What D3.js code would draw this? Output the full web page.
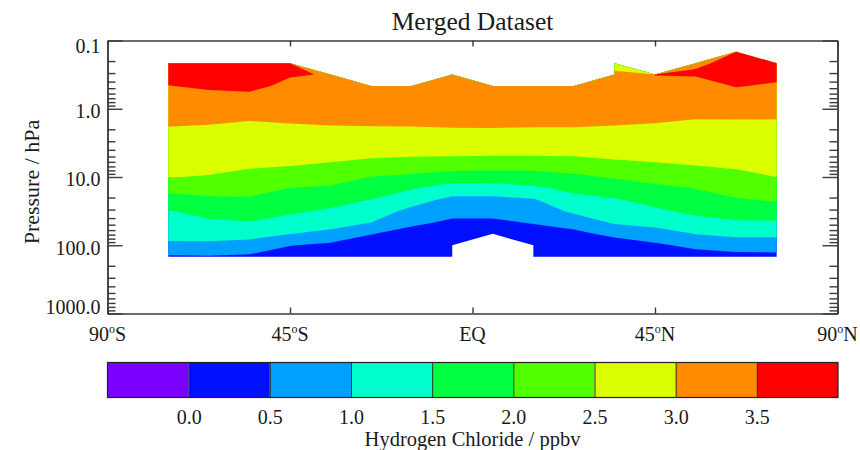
<!DOCTYPE html>
<html>
<head>
<meta charset="utf-8">
<script src="https://cdn.jsdelivr.net/npm/d3@7"></script>
<style>
  body { margin: 0; background: #fff; }
  text { font-family: "Liberation Serif", "Times New Roman", "DejaVu Serif", serif; fill: #1a1a1a; }
  .tick text { font-size: 20px; }
  .axis .domain, .axis .tick line { stroke: #3a3a3a; stroke-width: 1.4; }
  .cbar .domain { display: none; }
  .cbar .tick line { stroke: #333; stroke-width: 1; }
</style>
</head>
<body>
<svg id="chart" width="860" height="450"></svg>
<script>
// Zonal-mean HCl (ppbv) on latitude / pressure grid.
const latitudes = [-75, -65, -55, -45, -35, -25, -15, -5, 5, 15, 25, 35, 45, 55, 65, 75];
const pressureLevels = [146.8, 100.0, 68.13, 46.42, 31.62, 21.54, 14.68, 10.0, 6.813,
                        4.642, 3.162, 2.154, 1.468, 1.0, 0.6813, 0.4642, 0.3162, 0.2154, 0.1468];
// one row per pressure level (highest pressure first), one value per latitude; null = no data
const hcl = [
  [0.44, 0.47, 0.42, 0.20, 0.10, 0.05, 0.02, 0.03, null, 0.05, 0.05, 0.05, 0.05, 0.25, 0.34, 0.36],
  [0.92, 0.90, 0.82, 0.52, 0.39, 0.10, 0.10, 0.08, null, 0.10, 0.10, 0.19, 0.41, 0.63, 0.73, 0.74],
  [1.14, 1.18, 1.17, 1.01, 0.88, 0.52, 0.32, 0.19, 0.20, 0.32, 0.35, 0.65, 0.81, 1.01, 1.11, 1.11],
  [1.31, 1.42, 1.48, 1.31, 1.18, 1.00, 0.60, 0.42, 0.42, 0.53, 0.73, 1.05, 1.15, 1.34, 1.45, 1.45],
  [1.48, 1.67, 1.71, 1.58, 1.43, 1.25, 0.88, 0.65, 0.65, 0.75, 1.08, 1.26, 1.42, 1.61, 1.71, 1.76],
  [1.80, 1.92, 1.94, 1.79, 1.68, 1.49, 1.19, 0.88, 0.88, 0.96, 1.35, 1.46, 1.66, 1.81, 1.96, 2.05],
  [2.15, 2.19, 2.16, 1.99, 1.94, 1.75, 1.54, 1.27, 1.27, 1.41, 1.62, 1.75, 1.90, 2.01, 2.18, 2.27],
  [2.51, 2.48, 2.37, 2.25, 2.19, 1.99, 1.90, 1.77, 1.76, 1.79, 1.90, 2.05, 2.16, 2.26, 2.39, 2.50],
  [2.62, 2.60, 2.55, 2.51, 2.45, 2.34, 2.27, 2.21, 2.18, 2.18, 2.24, 2.38, 2.45, 2.50, 2.55, 2.60],
  [2.73, 2.71, 2.66, 2.64, 2.62, 2.59, 2.57, 2.56, 2.55, 2.55, 2.56, 2.60, 2.62, 2.62, 2.66, 2.70],
  [2.84, 2.82, 2.78, 2.78, 2.77, 2.76, 2.75, 2.75, 2.75, 2.75, 2.74, 2.76, 2.76, 2.75, 2.77, 2.80],
  [2.95, 2.93, 2.89, 2.91, 2.92, 2.93, 2.93, 2.94, 2.95, 2.94, 2.93, 2.92, 2.90, 2.87, 2.88, 2.90],
  [3.07, 3.05, 3.01, 3.04, 3.07, 3.08, 3.09, 3.12, 3.11, 3.10, 3.12, 3.07, 3.04, 2.99, 2.99, 2.99],
  [3.21, 3.22, 3.21, 3.16, 3.15, 3.16, 3.17, 3.22, 3.19, 3.18, 3.22, 3.12, 3.15, 3.12, 3.17, 3.15],
  [3.35, 3.39, 3.40, 3.28, 3.25, 3.24, 3.25, 3.31, 3.26, 3.26, 3.30, 3.15, 3.27, 3.25, 3.34, 3.30],
  [3.49, 3.56, 3.60, 3.41, 3.33, 3.32, 3.33, 3.40, 3.33, 3.34, 3.38, 3.12, 3.39, 3.35, 3.52, 3.45],
  [3.64, 3.70, 3.75, 3.53, 3.48, null, null, 3.56, null, null, null, 3.04, 3.51, 3.53, 3.65, 3.60],
  [3.80, 3.82, 3.85, 3.70, null, null, null, null, null, null, null, 2.92, null, 3.47, 3.55, 3.70],
  [null, null, null, null, null, null, null, null, null, null, null, null, null, null, 3.80, null]
];

const contourLevels = [0.0, 0.5, 1.0, 1.5, 2.0, 2.5, 3.0, 3.5];
const colorbarEdges = [-0.5, 0.0, 0.5, 1.0, 1.5, 2.0, 2.5, 3.0, 3.5, 4.0];
const levelColors = ["#7a00ff", "#0010ff", "#00a0ff", "#00ffcc", "#00ff40",
                     "#50ff00", "#dcff00", "#ff8c00", "#ff0000"];
const pressureTicks = [0.1, 1, 10, 100, 1000];
const latTicks = [-90, -45, 0, 45, 90];
const latTickLabels = ["90°S", "45°S", "EQ", "45°N", "90°N"];

const svg = d3.select("#chart");

const x = d3.scaleLinear([-90, 90], [107.5, 837.5]);
const y = d3.scaleLog([0.1, 1000], [40.5, 313.5]);

// ---- filled contours ----
// pad the grid with one ring of "no data" so that every boundary sits on a data point
const nx = latitudes.length + 2, ny = pressureLevels.length + 2;
const NO_DATA = -1e6;
const grid = new Array(nx * ny).fill(NO_DATA);
hcl.forEach((row, j) => row.forEach((v, i) => {
  if (v != null) grid[(j + 1) * nx + (i + 1)] = v;
}));

const dLat = latitudes[1] - latitudes[0];
const logP0 = Math.log10(pressureLevels[0]);
const dLogP = Math.log10(pressureLevels[1]) - logP0;
const gridToPixel = d3.geoTransform({
  point(gx, gy) {
    const lat = latitudes[0] + (gx - 1.5) * dLat;
    const p = Math.pow(10, logP0 + (gy - 1.5) * dLogP);
    this.stream.point(x(lat), y(p));
  }
});
const path = d3.geoPath(gridToPixel);

const bands = d3.contours().size([nx, ny]).thresholds(contourLevels)(grid);
svg.append("g")
  .selectAll("path")
  .data(bands)
  .join("path")
  .attr("d", path)
  .attr("fill", (d, k) => levelColors[k + 1])
  .attr("stroke", "none");

// ---- axes / frame ----
const minorTicks = y.ticks().filter(v => !pressureTicks.some(t => Math.abs(t - v) < 1e-9));

const left = svg.append("g").attr("class", "axis").attr("transform", `translate(${x(-90)},0)`);
left.call(d3.axisLeft(y).tickValues(minorTicks).tickSizeInner(-8).tickSizeOuter(0).tickFormat(""));
left.append("g").call(d3.axisLeft(y).tickValues(pressureTicks).tickSizeInner(-15).tickSizeOuter(0)
  .tickPadding(7).tickFormat(d3.format(".1f")));
// end labels sit just inside the frame
left.selectAll(".tick text")
  .attr("dy", d => d === pressureTicks[0] ? "0.62em" : d === pressureTicks[pressureTicks.length - 1] ? "0.02em" : "0.44em");

const right = svg.append("g").attr("class", "axis").attr("transform", `translate(${x(90)},0)`);
right.call(d3.axisRight(y).tickValues(minorTicks).tickSizeInner(-8).tickSizeOuter(0).tickFormat(""));
right.append("g").call(d3.axisRight(y).tickValues(pressureTicks).tickSizeInner(-15).tickSizeOuter(0).tickFormat(""));

svg.append("g").attr("class", "axis").attr("transform", `translate(0,${y(0.1)})`)
  .call(d3.axisTop(x).tickValues(latTicks).tickSizeInner(-6).tickSizeOuter(0).tickFormat(""));
svg.append("g").attr("class", "axis").attr("transform", `translate(0,${y(1000)})`)
  .call(d3.axisBottom(x).tickValues(latTicks).tickSizeInner(-6).tickSizeOuter(0).tickFormat(""));

// latitude labels with raised "o" for degrees
const latLabels = svg.append("g").selectAll("text")
  .data(latTicks)
  .join("text")
  .attr("x", d => x(d))
  .attr("y", 341)
  .attr("text-anchor", "middle")
  .attr("font-size", 20);
latLabels.each(function(d, k) {
  const parts = latTickLabels[k].split("°");
  const t = d3.select(this);
  t.append("tspan").text(parts[0]);
  if (parts.length > 1) {
    t.append("tspan").attr("font-size", 12).attr("dy", -8).text("o");
    t.append("tspan").attr("font-size", 20).attr("dy", 8).text(parts[1]);
  }
});

svg.append("text")
  .attr("x", x(0)).attr("y", 30)
  .attr("text-anchor", "middle").attr("font-size", 25.5)
  .text("Merged Dataset");

svg.append("text")
  .attr("transform", `translate(39,182) rotate(-90)`)
  .attr("text-anchor", "middle").attr("font-size", 22)
  .text("Pressure / hPa");

// ---- colour bar ----
const cb = d3.scaleLinear([colorbarEdges[0], colorbarEdges[colorbarEdges.length - 1]], [107.5, 838]);
const cbTop = 362.5, cbH = 35;
const cbar = svg.append("g");
cbar.selectAll("rect")
  .data(levelColors)
  .join("rect")
  .attr("x", (c, k) => cb(colorbarEdges[k]))
  .attr("width", (c, k) => cb(colorbarEdges[k + 1]) - cb(colorbarEdges[k]))
  .attr("y", cbTop).attr("height", cbH)
  .attr("fill", c => c);
cbar.append("g").attr("class", "cbar").attr("transform", `translate(0,${cbTop + cbH})`)
  .call(d3.axisBottom(cb).tickValues(contourLevels).tickSizeInner(-cbH).tickSizeOuter(0)
    .tickPadding(12).tickFormat(d3.format(".1f")));
cbar.append("rect")
  .attr("x", cb.range()[0]).attr("y", cbTop)
  .attr("width", cb.range()[1] - cb.range()[0]).attr("height", cbH)
  .attr("fill", "none").attr("stroke", "#222").attr("stroke-width", 1.2);

svg.append("text")
  .attr("x", x(0)).attr("y", 446)
  .attr("text-anchor", "middle").attr("font-size", 20.5)
  .text("Hydrogen Chloride / ppbv");
</script>
</body>
</html>
